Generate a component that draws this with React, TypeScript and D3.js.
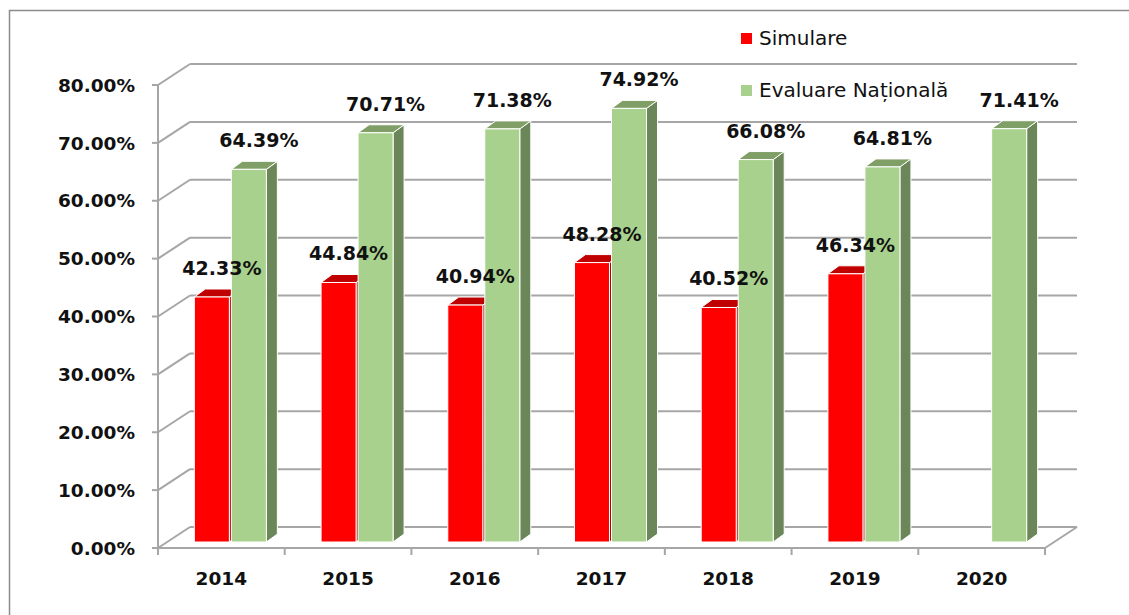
import React from "react";
import * as d3 from "d3";

const categories = ["2014", "2015", "2016", "2017", "2018", "2019", "2020"];
const simulare: (number | null)[] = [42.33, 44.84, 40.94, 48.28, 40.52, 46.34, null];
const evaluare: number[] = [64.39, 70.71, 71.38, 74.92, 66.08, 64.81, 71.41];
const yTicks = [0, 10, 20, 30, 40, 50, 60, 70, 80];
const seriesNames = ["Simulare", "Evaluare Națională"];

const W = 1129;
const H = 615;
const FONT = "'DejaVu Sans', Verdana, sans-serif";

const RED = { front: "#FF0000", top: "#C00000", side: "#B00000" };
const GREEN = { front: "#A9D18E", top: "#7F9F67", side: "#6B8658" };
const GRID = "#A6A6A6";

export default function App() {
  const x0 = 158, x1 = 1045;
  const depthX = 32, depthY = -21;
  const barShiftX = 9, barShiftY = -6;
  const barDX = 11, barDY = -8;

  const x = d3.scaleBand<string>().domain(categories).range([x0, x1]);
  const y = d3.scaleLinear().domain([0, 80]).range([548, 85]);
  const fmt = (v: number) => v.toFixed(2) + "%";

  const barW = 35;
  const bars: { cat: string; v: number; s: number; col: typeof RED }[] = [];
  categories.forEach((c, i) => {
    const sv = simulare[i];
    if (sv != null) bars.push({ cat: c, v: sv, s: 0, col: RED });
    bars.push({ cat: c, v: evaluare[i], s: 1, col: GREEN });
  });

  const barGeom = (b: { cat: string; v: number; s: number }) => {
    const cx = (x(b.cat) as number) + x.bandwidth() / 2 + barShiftX;
    const left = b.s === 0 ? cx - barW - 1 : cx + 1;
    const right = left + barW;
    const top = y(b.v) + barShiftY;
    const bottom = y(0) + barShiftY;
    return { left, right, top, bottom };
  };

  return (
    <svg width={W} height={H} style={{ display: "block", position: "fixed", left: 0, top: 0 }}>
      <rect x={9.5} y={10.5} width={W + 20} height={H + 20} fill="white" stroke="#8C8C8C" strokeWidth={1.5} />
      {/* back wall gridlines */}
      {yTicks.map((t) => (
        <g key={"g" + t}>
          <line x1={x0 + depthX} x2={x1 + depthX} y1={y(t) + depthY} y2={y(t) + depthY} stroke={GRID} strokeWidth={2} />
          <line x1={x0} x2={x0 + depthX} y1={y(t)} y2={y(t) + depthY} stroke={GRID} strokeWidth={2} />
          <line x1={x0 - 6} x2={x0} y1={y(t)} y2={y(t)} stroke={GRID} strokeWidth={2} />
        </g>
      ))}
      {/* floor */}
      <line x1={x0} x2={x1} y1={y(0)} y2={y(0)} stroke={GRID} strokeWidth={2} />
      <line x1={x1} x2={x1 + depthX} y1={y(0)} y2={y(0) + depthY} stroke={GRID} strokeWidth={2} />
      <line x1={x0} x2={x0} y1={y(80)} y2={y(0)} stroke={GRID} strokeWidth={2} />
      {categories.map((c) => (
        <line key={"xt" + c} x1={x(c) as number} x2={x(c) as number} y1={y(0)} y2={y(0) + 7} stroke={GRID} strokeWidth={2} />
      ))}
      <line x1={x1} x2={x1} y1={y(0)} y2={y(0) + 7} stroke={GRID} strokeWidth={2} />
      {/* bars */}
      {bars.map((b, i) => {
        const g = barGeom(b);
        const side = `M${g.right},${g.top} L${g.right + barDX},${g.top + barDY} L${g.right + barDX},${g.bottom + barDY} L${g.right},${g.bottom} Z`;
        const topF = `M${g.left},${g.top} L${g.left + barDX},${g.top + barDY} L${g.right + barDX},${g.top + barDY} L${g.right},${g.top} Z`;
        return (
          <g key={"b" + i}>
            <path d={side} fill={b.col.side} stroke="white" strokeWidth={1} strokeLinejoin="round" />
            <path d={topF} fill={b.col.top} stroke="white" strokeWidth={1} strokeLinejoin="round" />
            <rect x={g.left} y={g.top} width={g.right - g.left} height={g.bottom - g.top} fill={b.col.front} stroke="white" strokeWidth={1} />
          </g>
        );
      })}
      {/* data labels */}
      {bars.map((b, i) => {
        const g = barGeom(b);
        return (
          <text key={"l" + i} x={(g.left + g.right) / 2 + 10} y={g.top - 22} textAnchor="middle"
            fontFamily={FONT} fontWeight="bold" fontSize={19} fill="#111">
            {fmt(b.v)}
          </text>
        );
      })}
      {/* y axis labels */}
      {yTicks.map((t) => (
        <text key={"yl" + t} x={135} y={y(t)} dy="0.36em" textAnchor="end" fontFamily={FONT} fontWeight="bold" fontSize={18.5} fill="#111">
          {fmt(t)}
        </text>
      ))}
      {/* x labels */}
      {categories.map((c) => (
        <text key={"xl" + c} x={(x(c) as number) + x.bandwidth() / 2} y={585} textAnchor="middle" fontFamily={FONT} fontWeight="bold" fontSize={18.5} fill="#111">
          {c}
        </text>
      ))}
      {/* legend */}
      {seriesNames.map((n, i) => (
        <g key={"lg" + i} transform={`translate(741, ${38 + i * 52})`}>
          <rect x={0} y={-5} width={11} height={11} fill={i === 0 ? RED.front : GREEN.front} />
          <text x={18} y={0} dy="0.36em" fontFamily={FONT} fontSize={20} fill="#111">{n}</text>
        </g>
      ))}
    </svg>
  );
}
